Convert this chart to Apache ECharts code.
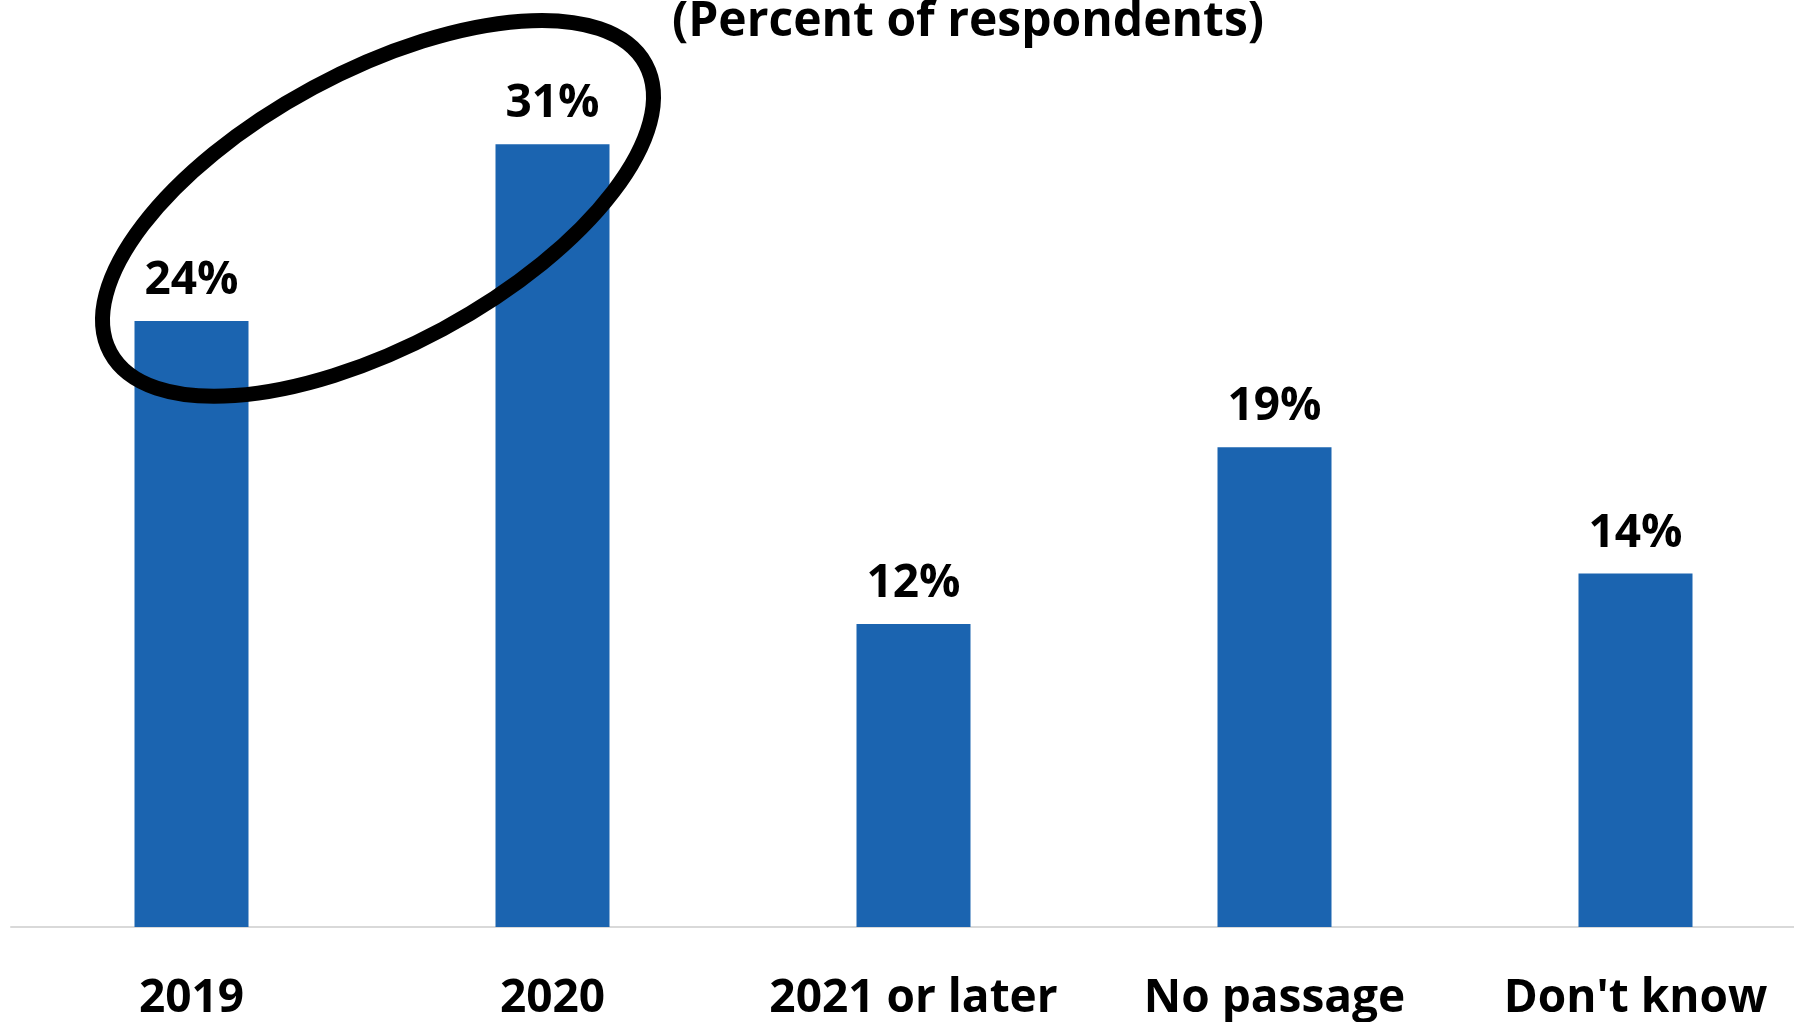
<!DOCTYPE html>
<html>
<head>
<meta charset="utf-8">
<title>Expected passage timing</title>
<script src="https://cdn.jsdelivr.net/npm/echarts@6/dist/echarts.min.js"></script>
<style>
  html, body { margin: 0; padding: 0; background: #ffffff; }
  #chart { width: 1794px; height: 1022px; }
</style>
</head>
<body>
<div id="chart"></div>
<script>
// Survey answers: when respondents expect passage
const categories = ['2019', '2020', '2021 or later', 'No passage', "Don't know"];
const shares = [24, 31, 12, 19, 14];
const titleText = '(Percent of respondents)';

const FONT = '"Open Sans", "Noto Sans", sans-serif';
const BAR_BLUE = '#1b64b0';

const chart = echarts.init(document.getElementById('chart'), null, { renderer: 'canvas' });

chart.setOption({
  animation: false,
  backgroundColor: '#ffffff',
  title: {
    text: titleText,
    left: 968,
    textAlign: 'center',
    top: -2,
    padding: 0,
    textStyle: { fontFamily: FONT, fontSize: 48, fontWeight: 'bold', color: '#000000' }
  },
  // plot runs a little past the right edge of the canvas
  grid: {
    left: 11, width: 1805, top: 18, bottom: 95,
    containLabel: false,
    outerBoundsMode: 'none'
  },
  xAxis: {
    type: 'category',
    data: categories,
    boundaryGap: true,
    axisTick: { show: false },
    axisLine: { show: true, lineStyle: { color: '#d9d9d9', width: 2 } },
    axisLabel: {
      margin: 49,
      interval: 0,
      fontFamily: FONT, fontSize: 46, fontWeight: 'bold', color: '#000000'
    }
  },
  yAxis: {
    type: 'value',
    min: 0,
    max: 36,
    show: false,
    splitLine: { show: false }
  },
  series: [{
    type: 'bar',
    data: shares,
    barWidth: 114,
    itemStyle: { color: BAR_BLUE },
    label: {
      show: true,
      position: 'top',
      distance: 17,
      formatter: p => p.value + '%',
      fontFamily: FONT, fontSize: 46, fontWeight: 'bold', color: '#000000'
    }
  }]
});

// Highlight ring around the 2019 and 2020 bars, placed from the axis scales
const pA = chart.convertToPixel({ seriesIndex: 0 }, [0, 28.5]);
const pB = chart.convertToPixel({ seriesIndex: 0 }, [1, 28.5]);
chart.setOption({
  graphic: [{
    type: 'ellipse',
    x: (pA[0] + pB[0]) / 2 + 6,
    y: pA[1] + 1,
    rotation: 28.3 * Math.PI / 180,
    shape: { cx: 0, cy: 0, rx: 304, ry: 137 },
    style: { fill: 'none', stroke: '#000000', lineWidth: 15 },
    z: 100
  }]
});
</script>
</body>
</html>
